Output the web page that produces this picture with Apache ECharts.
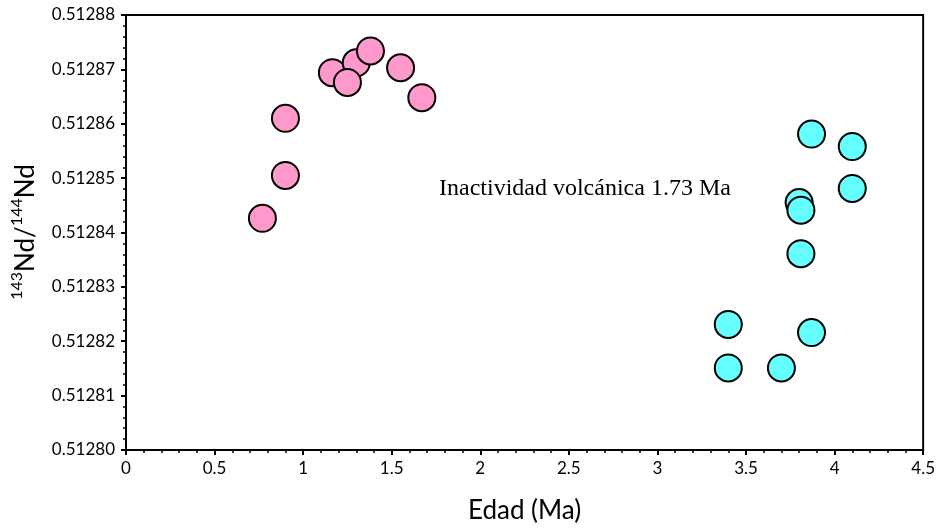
<!DOCTYPE html>
<html>
<head>
<meta charset="utf-8">
<script src="https://cdn.jsdelivr.net/npm/echarts@6/dist/echarts.min.js"></script>
<style>
  html, body { margin: 0; padding: 0; background: #fff; }
  #chart { width: 938px; height: 529px; }
</style>
</head>
<body>
<div id="chart"></div>
<script>
// Age (Ma) and 143Nd/144Nd for the younger group (before the volcanic gap)
const youngAge = [0.77, 0.90, 0.90, 1.165, 1.30, 1.25, 1.38, 1.55, 1.67];
const youngNd  = [0.5128426, 0.5128505, 0.5128610, 0.5128694, 0.5128712, 0.5128676, 0.5128734, 0.5128703, 0.5128648];

// Age (Ma) and 143Nd/144Nd for the older group
const oldAge = [3.87, 4.10, 4.10, 3.80, 3.81, 3.81, 3.40, 3.87, 3.40, 3.70];
const oldNd  = [0.5128581, 0.5128558, 0.5128481, 0.5128455, 0.5128441, 0.5128361, 0.5128231, 0.5128216, 0.5128151, 0.5128151];

const xTicks = { min: 0, max: 4.5, step: 0.5 };
const yTicks = { min: 0.51280, max: 0.51288, step: 0.00001 };

const annotation = 'Inactividad volcánica 1.73 Ma';

const pairs = (xs, ys) => xs.map((x, i) => [x, ys[i]]);

const chart = echarts.init(document.getElementById('chart'), null, { renderer: 'canvas' });

const axisFont = { fontFamily: 'Lato', fontSize: 17, color: '#000' };

chart.setOption({
  animation: false,
  backgroundColor: '#fff',
  grid: {
    left: 126, right: 13, top: 15, bottom: 78,
    show: true, borderColor: '#000', borderWidth: 2, backgroundColor: 'transparent'
  },
  xAxis: {
    type: 'value',
    min: xTicks.min, max: xTicks.max, interval: xTicks.step,
    name: 'Edad (Ma)',
    nameLocation: 'middle',
    nameGap: 48,
    nameTextStyle: { fontFamily: 'Lato', fontSize: 26, color: '#000' },
    axisLine: { show: true, onZero: false, lineStyle: { color: '#000', width: 2 } },
    axisTick: { show: true, length: 5, lineStyle: { color: '#000', width: 2 } },
    minorTick: { show: true, splitNumber: 5, length: 3, lineStyle: { color: '#000', width: 1.5 } },
    splitLine: { show: false },
    axisLabel: Object.assign({ margin: 10 }, axisFont)
  },
  yAxis: {
    type: 'value',
    min: yTicks.min, max: yTicks.max, interval: yTicks.step,
    axisLine: { show: true, onZero: false, lineStyle: { color: '#000', width: 2 } },
    axisTick: { show: true, length: 5, lineStyle: { color: '#000', width: 2 } },
    minorTick: { show: true, splitNumber: 5, length: 3, lineStyle: { color: '#000', width: 1.5 } },
    splitLine: { show: false },
    axisLabel: Object.assign({ margin: 11, formatter: v => v.toFixed(5) }, axisFont)
  },
  graphic: [
    {
      // rotated y-axis title with superscript isotope masses
      type: 'text',
      x: 24, y: 232,
      rotation: Math.PI / 2,
      style: {
        text: '{sup|143}{main|Nd/}{sup|144}{main|Nd}',
        align: 'center', verticalAlign: 'middle',
        rich: {
          main: { fontFamily: 'Lato', fontSize: 26, fill: '#000', verticalAlign: 'bottom', lineHeight: 30 },
          sup:  { fontFamily: 'Lato', fontSize: 16, fill: '#000', verticalAlign: 'top', lineHeight: 30, padding: [0, 0, 10, 0] }
        }
      }
    },
    {
      type: 'text',
      left: 439, top: 177,
      style: { text: annotation, fontFamily: 'Liberation Serif', fontSize: 24, fill: '#000' }
    }
  ],
  series: [
    {
      type: 'scatter',
      data: pairs(youngAge, youngNd),
      symbol: 'circle', symbolSize: 27,
      itemStyle: { color: '#FF99CC', borderColor: '#000', borderWidth: 2, opacity: 1 },
      emphasis: { disabled: true }
    },
    {
      type: 'scatter',
      data: pairs(oldAge, oldNd),
      symbol: 'circle', symbolSize: 27,
      itemStyle: { color: '#66FFFF', borderColor: '#000', borderWidth: 2, opacity: 1 },
      emphasis: { disabled: true }
    }
  ]
});
</script>
</body>
</html>
